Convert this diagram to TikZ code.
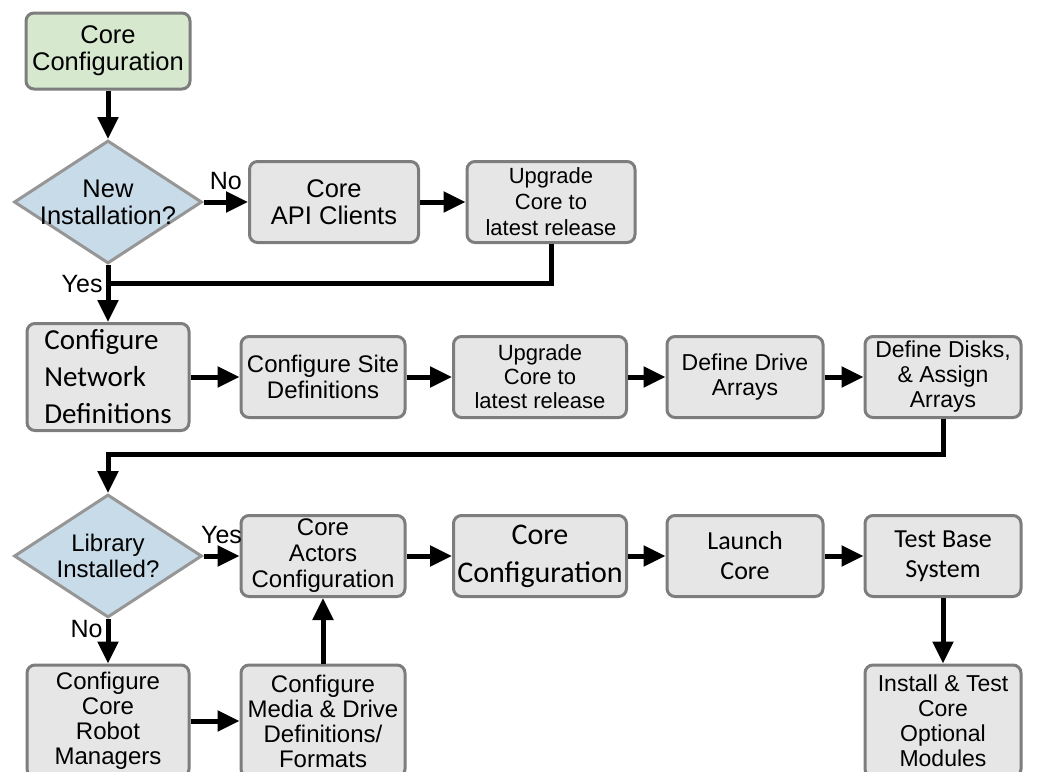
\documentclass[tikz,border=0pt]{standalone}
\usepackage{fontspec}
\setmainfont{Liberation Sans}
\newfontfamily\calibri{Carlito}
\usetikzlibrary{arrows.meta,shapes.geometric}
\definecolor{boxfill}{RGB}{230,230,230}
\definecolor{boxline}{RGB}{125,125,125}
\definecolor{startfill}{RGB}{214,232,206}
\definecolor{askfill}{RGB}{200,219,232}
\definecolor{askline}{RGB}{150,150,150}

\begin{document}
\begin{tikzpicture}[x=1pt,y=-1pt,
  font=\fontsize{24}{26}\selectfont,
  box/.style={draw=boxline,fill=boxfill,line width=3pt,rounded corners=8pt,
    align=center,inner sep=2pt,minimum width=164pt,minimum height=81pt},
  tall/.style={box,minimum width=162pt,minimum height=112pt,
    font=\fontsize{24}{25}\selectfont},
  ask/.style={diamond,draw=askline,fill=askfill,line width=3pt,align=center,
    inner sep=-15pt,minimum width=188pt,minimum height=123pt},
  big/.style={font=\fontsize{25.5}{27}\selectfont},
  small/.style={font=\fontsize{22}{24}\selectfont},
  narrow/.style={font=\fontsize{23}{25}\selectfont},
  wide/.style={font=\calibri\fontsize{26}{30}\selectfont},
  flow/.style={-{Triangle[length=22pt,width=20pt]},line width=5pt,draw=black},
  link/.style={line width=5pt,draw=black},
  condition/.style={inner sep=1pt,font=\fontsize{25}{27}\selectfont}]
\useasboundingbox (0,0) rectangle (1064,771);

% top rows
\node[box,big,fill=startfill,minimum height=76pt] (core_cfg) at (108,51) {Core\\Configuration};
\node[ask,big] (new_inst) at (108,202) {New\\Installation?};
\node[box,big,minimum width=169pt] (api) at (334,202) {Core\\API Clients};
\node[box,font=\fontsize{22}{26}\selectfont,minimum width=168pt] (upgrade_a) at (551,202) {Upgrade\\Core to\\latest release};

\node[box,align=left,minimum height=107pt,minimum width=162pt,
  font=\calibri\fontsize{29}{37}\selectfont] (net) at (108,377) {Configure\\Network\\Definitions};
\node[box] (site) at (323,377) {Configure Site\\Definitions};
\node[box,small,minimum width=173pt] (upgrade_b) at (540,377) {Upgrade\\Core to\\latest release};
\node[box,narrow,minimum width=156pt] (drive) at (745,377) {Define Drive\\Arrays};
\node[box,narrow,minimum width=156pt] (disks) at (943,377) {Define Disks,\\\& Assign\\Arrays};

% library branch
\node[ask] (lib) at (108,556) {Library\\Installed?};
\node[box] (actors) at (323,556) {Core\\Actors\\Configuration};
\node[box,minimum width=173pt,font=\calibri\fontsize{30}{38}\selectfont] (core_cfg_b) at (540,556) {Core\\Configuration};
\node[box,wide,minimum width=156pt] (launch) at (745,556) {Launch\\Core};
\node[box,wide,minimum width=156pt] (test) at (943,556) {Test Base\\System};

\node[tall] (robot) at (108,721) {Configure\\Core\\Robot\\Managers};
\node[tall,minimum width=164pt] (media) at (323,721) {Configure\\Media \& Drive\\Definitions/\\Formats};
\node[tall,minimum width=156pt,font=\fontsize{23}{25}\selectfont] (optional) at (943,721) {Install \& Test\\Core\\Optional\\Modules};

\coordinate (join_a) at (108,283);
\coordinate (join_b) at (108,454);

\draw[flow] (core_cfg.south)--(new_inst.north);
\draw[flow] (new_inst.east)--node[condition,above=9pt] (no_new) {No}(api.west);
\draw[flow] (api.east)--(upgrade_a.west);
\draw[link] (upgrade_a.south)|-(join_a);
\draw[flow] (new_inst.south)--node[condition,left=2pt,pos=0.33] (yes_new) {Yes}(net.north);

\draw[flow] (net.east)--(site.west);
\draw[flow] (site.east)--(upgrade_b.west);
\draw[flow] (upgrade_b.east)--(drive.west);
\draw[flow] (drive.east)--(disks.west);
\draw[flow] (disks.south)|-(join_b)--(lib.north);

\draw[flow] (lib.east)--node[condition,above=9pt] (yes_lib) {Yes}(actors.west);
\draw[flow] (lib.south)--node[condition,left=2pt,pos=0.22] (no_lib) {No}(robot.north);
\draw[flow] (actors.east)--(core_cfg_b.west);
\draw[flow] (core_cfg_b.east)--(launch.west);
\draw[flow] (launch.east)--(test.west);
\draw[flow] (test.south)--(optional.north);
\draw[flow] (robot.east)--(media.west);
\draw[flow] (media.north)--(actors.south);
\end{tikzpicture}
\end{document}
